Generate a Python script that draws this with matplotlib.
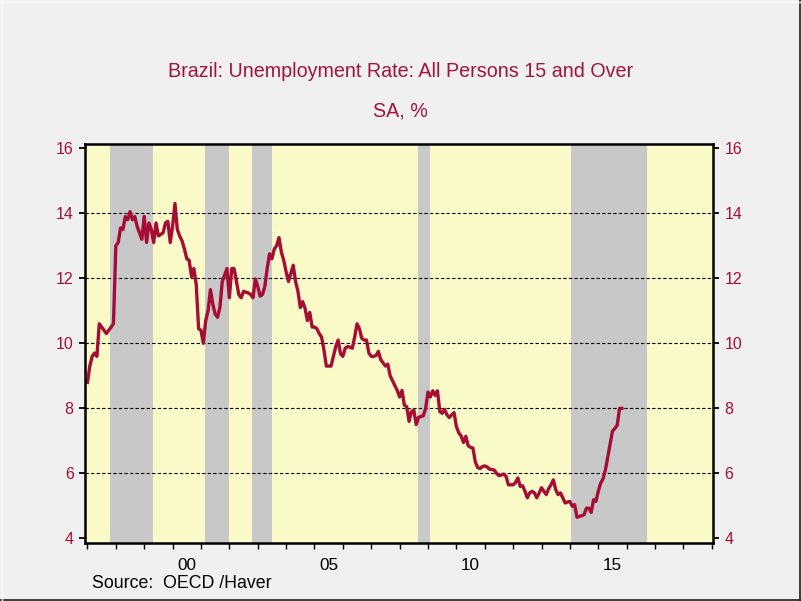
import numpy as np
import pandas as pd
import matplotlib
matplotlib.use("Agg")
import matplotlib.pyplot as plt
from matplotlib.lines import Line2D

plt.rcParams['font.family'] = ['Liberation Sans', 'DejaVu Sans']

# Brazil unemployment rate, monthly from Jan 1997 (SA, %)
rate = [
    8.8, 9.3, 9.6, 9.7, 9.6, 10.6, 10.5, 10.4, 10.3, 10.4, 10.5, 10.6,      # 1997
    13.0, 13.1, 13.55, 13.5, 13.9, 13.8, 14.05, 13.8, 13.9, 13.6, 13.4, 13.2,  # 1998
    13.9, 13.1, 13.7, 13.5, 13.1, 13.7, 13.3, 13.35, 13.4, 13.7, 13.75, 13.1,  # 1999
    13.6, 14.3, 13.5, 13.3, 13.15, 12.9, 12.6, 12.55, 12.05, 12.3, 11.8, 10.45,  # 2000
    10.4, 10.0, 10.7, 11.0, 11.65, 11.2, 10.9, 10.8, 11.1, 11.9, 12.1, 12.3,  # 2001
    11.4, 12.3, 12.3, 11.9, 11.5, 11.4, 11.6, 11.57, 11.55, 11.5, 11.4, 11.98,  # 2002
    11.75, 11.45, 11.5, 11.75, 12.3, 12.75, 12.6, 12.9, 13.0, 13.25, 12.8, 12.55,  # 2003
    12.2, 11.9, 12.15, 12.4, 11.9, 11.6, 11.1, 11.28, 11.08, 10.7, 10.95, 10.5,  # 2004
    10.5, 10.45, 10.3, 10.19, 9.8, 9.3, 9.3, 9.3, 9.6, 9.9, 10.1, 9.68,  # 2005
    9.6, 9.85, 9.9, 9.88, 9.85, 10.2, 10.6, 10.45, 10.15, 10.1, 10.1, 9.7,  # 2006
    9.6, 9.6, 9.62, 9.75, 9.5, 9.4, 9.3, 9.36, 9.0, 8.85, 8.7, 8.55,  # 2007
    8.35, 8.55, 8.1, 8.05, 7.6, 7.9, 7.95, 7.5, 7.72, 7.75, 7.77, 8.0,  # 2008
    8.5, 8.35, 8.54, 8.4, 8.54, 7.9, 7.85, 7.97, 7.8, 7.72, 7.8, 7.87,  # 2009
    7.44, 7.25, 7.15, 6.95, 7.14, 6.85, 6.8, 6.78, 6.35, 6.18, 6.15, 6.21,  # 2010
    6.23, 6.2, 6.13, 6.12, 6.1, 6.0, 5.93, 5.95, 5.98, 5.91, 5.65, 5.65,  # 2011
    5.65, 5.72, 5.86, 5.6, 5.62, 5.45, 5.25, 5.4, 5.45, 5.4, 5.25, 5.4,  # 2012
    5.56, 5.45, 5.35, 5.53, 5.65, 5.8, 5.5, 5.35, 5.4, 5.25, 5.09, 5.12,  # 2013
    5.14, 4.99, 5.04, 4.65, 4.68, 4.7, 4.73, 4.93, 4.93, 4.8, 5.19, 5.14,  # 2014
    5.45, 5.7, 5.83, 6.1, 6.5, 6.9, 7.3, 7.38, 7.48, 8.0, 8.0,  # 2015
]

# recession periods (decimal years)
rec_start = [1997.80, 2001.15, 2002.80, 2008.65, 2014.04]
rec_end = [1999.30, 2001.99, 2003.51, 2009.07, 2016.72]

grid_levels = [6, 8, 10, 12, 14]
year_labels = ["00", "05", "10", "15"]
label_years = [2000, 2005, 2010, 2015]

red = '#a50d34'
title_red = '#a0153e'

months = pd.date_range("1997-01-01", periods=len(rate), freq="MS")
x = months.year + (months.month - 1) / 12

fig = plt.figure(figsize=(8.01, 6.01), dpi=100, facecolor='#f0f0f0')
ax = fig.add_axes([0.1067, 0.0965, 0.783, 0.664])
ax.set_facecolor('#fafac8')

for s, e in zip(rec_start, rec_end):
    ax.axvspan(s, e, color='#c8c8c8', lw=0, zorder=0.5)

for g in grid_levels:
    ax.axhline(g, color='black', lw=0.8, ls=(0, (3, 2)), zorder=1)

ax.plot(x, rate, color=red, lw=2.4, zorder=3, solid_joinstyle='round')

ax.set_xlim(1996.93, 2019.03)
ax.set_ylim(3.86, 16.13)

ax.set_yticks(range(4, 17, 2))
ax.tick_params(axis='y', which='major', left=True, right=True, labelleft=True,
               labelright=True, direction='out', length=4.5, width=1.3,
               labelcolor=red, labelsize=11.5, pad=4)

ax.set_xticks(np.arange(1997, 2020))
ax.set_xticklabels([])
ax.set_xticks([y + 0.5 for y in label_years], minor=True)
ax.set_xticklabels(year_labels, minor=True)
ax.tick_params(axis='x', which='major', direction='out', length=4.5, width=1)
ax.tick_params(axis='x', which='minor', length=0, pad=11, labelsize=12.3)

for sp in ax.spines.values():
    sp.set_linewidth(1.8)
    sp.set_zorder(4)

fig.text(0.5, 1 - 71.5 / 601, "Brazil: Unemployment Rate: All Persons 15 and Over",
         ha='center', va='center', color=title_red, fontsize=14.2)
fig.text(0.5, 1 - 111 / 601, "SA, %", ha='center', va='center',
         color=title_red, fontsize=14.2)
fig.text(92 / 801, 1 - 583 / 601, "Source:  OECD /Haver", ha='left', va='center',
         color='black', fontsize=12.8)

# bevelled frame
fig.add_artist(Line2D([0, 1], [1.5 / 601, 1.5 / 601], color='#202020', lw=1.2,
                      transform=fig.transFigure))
fig.add_artist(Line2D([799.5 / 801, 799.5 / 801], [0, 1], color='#202020', lw=1.2,
                      transform=fig.transFigure))
fig.add_artist(Line2D([0, 1], [1 - 1.5 / 601, 1 - 1.5 / 601], color='white', lw=1,
                      transform=fig.transFigure))
fig.add_artist(Line2D([1.5 / 801, 1.5 / 801], [0, 1], color='white', lw=1,
                      transform=fig.transFigure))

fig.savefig("out.png", dpi=100, facecolor=fig.get_facecolor())
